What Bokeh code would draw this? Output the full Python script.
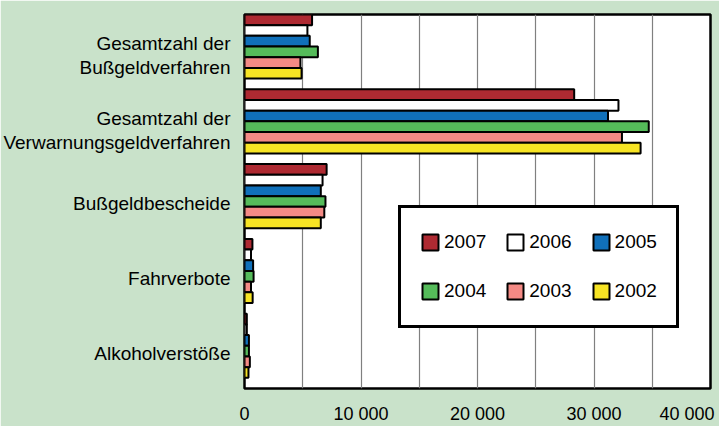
from bokeh.plotting import figure
from bokeh.models import Range1d, FixedTicker, Legend, LegendItem, ColumnDataSource
from bokeh.embed import file_html
from bokeh.resources import INLINE

categories = [["Gesamtzahl der", "Bußgeldverfahren"], ["Gesamtzahl der", "Verwarnungsgeldverfahren"],
              ["Bußgeldbescheide"], ["Fahrverbote"], ["Alkoholverstöße"]]
years = ["2007", "2006", "2005", "2004", "2003", "2002"]
colors = ["#AE2A32", "#FFFFFF", "#1070BA", "#55BB5A", "#F48A85", "#F7E424"]
v2007 = [5800, 28300, 7050, 680, 200]
v2006 = [5400, 32100, 6700, 560, 200]
v2005 = [5600, 31200, 6550, 740, 380]
v2004 = [6300, 34700, 6950, 780, 380]
v2003 = [4800, 32400, 6850, 560, 460]
v2002 = [4900, 34000, 6550, 700, 340]
series = [v2007, v2006, v2005, v2004, v2003, v2002]
x_ticks = [0, 10000, 20000, 30000, 40000]
x_tick_labels = ["0", "10 000", "20 000", "30 000", "40 000"]
grid_ticks = [0, 5000, 10000, 15000, 20000, 25000, 30000, 35000, 40000]

FONT = "Liberation Sans"
BG = "#C9E2CA"

p = figure(width=719, height=426, output_backend="svg", toolbar_location=None,
           x_range=Range1d(0, 40000), y_range=Range1d(5, 0),
           min_border_left=244, min_border_right=9, min_border_top=14, min_border_bottom=33)
p.background_fill_color = "white"
p.border_fill_color = BG
p.outline_line_color = "black"
p.outline_line_width = 2.5

n_groups = len(categories)
slot = 1.0 / 7.0
renderers = []
for j, (yr, col, vals) in enumerate(zip(years, colors, series)):
    ys = [i + (j + 0.5) * slot for i in range(n_groups)]
    src = ColumnDataSource(dict(y=ys, right=vals))
    r = p.hbar(y="y", right="right", left=0, height=slot, source=src,
               fill_color=col, line_color="black", line_width=2)
    renderers.append(r)

# axes
xa = p.xaxis[0]
xa.ticker = FixedTicker(ticks=x_ticks)
overrides = {t: l for t, l in zip(x_ticks, x_tick_labels)}
overrides[40000] = "40 000" + "\u00a0"
xa.major_label_overrides = overrides
xa.axis_line_color = None
xa.major_tick_line_color = None
xa.minor_tick_line_color = None
xa.major_label_text_font = FONT
xa.major_label_text_font_size = "18px"
xa.major_label_text_color = "black"
xa.major_label_standoff = 9

# y labels: one tick per text line, right-aligned like the reference
ya = p.yaxis[0]
yt, yl = [], []
for i, lines in enumerate(categories):
    if len(lines) == 1:
        yt.append(i + 0.53)
        yl.append(lines[0])
    else:
        yt.extend([i + 0.39, i + 0.705])
        yl.extend(lines)
ya.ticker = FixedTicker(ticks=yt)
ya.major_label_overrides = {t: c for t, c in zip(yt, yl)}
ya.axis_line_color = None
ya.major_tick_line_color = None
ya.minor_tick_line_color = None
ya.major_label_text_font = FONT
ya.major_label_text_font_size = "19px"
ya.major_label_text_color = "black"
ya.major_label_standoff = 8

p.ygrid.visible = False
p.xgrid.ticker = FixedTicker(ticks=grid_ticks)
p.xgrid.grid_line_color = "#808080"
p.xgrid.grid_line_width = 1.2

legend = Legend(items=[LegendItem(label=yr, renderers=[r]) for yr, r in zip(years, renderers)],
                location=(154, 60), orientation="horizontal", ncols=3,
                glyph_width=20, glyph_height=20, label_standoff=4, spacing=19,
                padding=19, label_height=30, margin=0,
                border_line_color="black", border_line_width=3, border_line_alpha=1,
                background_fill_color="white", background_fill_alpha=1,
                label_text_font=FONT, label_text_font_size="19px", label_text_color="black")
p.add_layout(legend)

open("out.html", "w").write(file_html(p, INLINE))
